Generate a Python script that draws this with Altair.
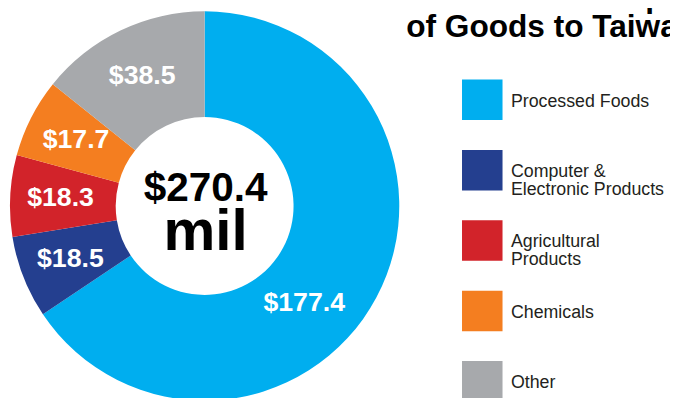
import altair as alt
import pandas as pd

# ---- data ----
categories = ["Processed Foods", "Computer & Electronic Products",
              "Agricultural Products", "Chemicals", "Other"]
legend_text = ["Processed Foods", "Computer &\nElectronic Products",
               "Agricultural\nProducts", "Chemicals", "Other"]
values = [177.4, 18.5, 18.3, 17.7, 38.5]
value_labels = ["$177.4", "$18.5", "$18.3", "$17.7", "$38.5"]
colors = ["#00aeef", "#243f8f", "#d2232a", "#f47e20", "#a7a9ac"]
total_lines = ["$270.4", "mil"]
title_lines = ["2023 Kansas Exports", "of Goods to Taiwan"]

FONT = "Liberation Sans"
CX, CY = 199, 198

df = pd.DataFrame({
    "category": categories,
    "legend": legend_text,
    "value": values,
    "label": value_labels,
    "idx": list(range(len(categories))),
})

color = alt.Color("category:N", sort=categories,
                  scale=alt.Scale(domain=categories, range=colors), legend=None)
theta = alt.Theta("value:Q", stack=True)
order = alt.Order("idx:Q", sort="ascending")

arcs = alt.Chart(df).mark_arc(innerRadius=90, outerRadius=197).encode(
    theta=theta, order=order, color=color,
    x=alt.value(CX), y=alt.value(CY),
)

labels_small = alt.Chart(df).mark_text(
    radius=146, font=FONT, fontSize=27, fontWeight="bold", color="white",
    baseline="middle", align="center",
).encode(
    theta=theta, order=order,
    text=alt.condition("datum.category != 'Processed Foods'", "label:N", alt.value("")),
    x=alt.value(CX), y=alt.value(CY),
)

labels_big = alt.Chart(df).mark_text(
    radius=146, font=FONT, fontSize=27, fontWeight="bold", color="white",
    baseline="middle", align="center", dx=-28, dy=30,
).encode(
    theta=theta, order=order,
    text=alt.condition("datum.category == 'Processed Foods'", "label:N", alt.value("")),
    x=alt.value(CX), y=alt.value(CY),
)

center1 = alt.Chart(pd.DataFrame({"t": [total_lines[0]]})).mark_text(
    font=FONT, fontSize=41, fontWeight="bold", color="black",
    align="center", baseline="alphabetic",
).encode(text="t:N", x=alt.value(CX + 1), y=alt.value(193))

center2 = alt.Chart(pd.DataFrame({"t": [total_lines[1]]})).mark_text(
    font=FONT, fontSize=59, fontWeight="bold", color="black",
    align="center", baseline="alphabetic",
).encode(text="t:N", x=alt.value(CX + 1), y=alt.value(243))

title = alt.Chart(pd.DataFrame({"t": [0]})).mark_text(
    text=title_lines, font=FONT, fontSize=32, fontWeight="bold", color="black",
    align="left", baseline="alphabetic", lineHeight=30,
).encode(x=alt.value(403), y=alt.value(-3))

# legend drawn as squares + labels on a point scale
leg_y = alt.Y("category:N", sort=categories, axis=None,
              scale=alt.Scale(type="point", domain=categories,
                              range=[90.5, 375.5], padding=0))

leg_squares = alt.Chart(df).mark_square(size=1681, opacity=1, filled=True).encode(
    y=leg_y, x=alt.value(480), color=color,
)

leg_text = alt.Chart(df).mark_text(
    font=FONT, fontSize=18, color="#231f20", align="left", baseline="middle",
    lineBreak="\n", lineHeight=18, dy=2,
).encode(
    y=leg_y, x=alt.value(509), text="legend:N",
)

chart = alt.layer(
    arcs, labels_small, labels_big, center1, center2, title, leg_squares, leg_text
).properties(
    width=670, height=390,
    autosize=alt.AutoSizeParams(type="none"),
    padding=0,
    background="white",
).configure_view(stroke=None)

chart.save("out.html", embed_options={"renderer": "svg", "actions": False})
